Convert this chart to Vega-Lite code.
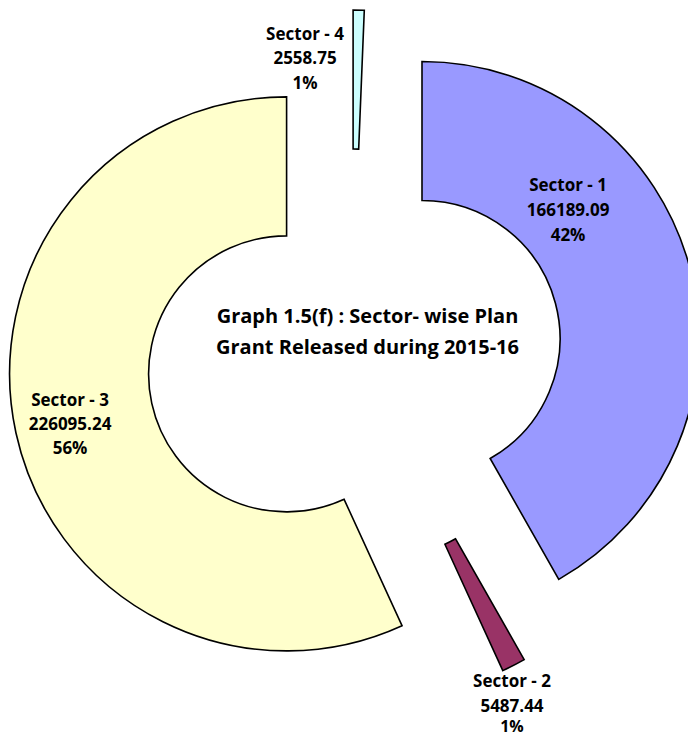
{
  "$schema": "https://vega.github.io/schema/vega-lite/v6.json",
  "width": 688,
  "height": 737,
  "autosize": {"type": "none"},
  "padding": 0,
  "background": "#ffffff",
  "config": {"view": {"stroke": null}},
  "data": {"values": [
    {"sector": "Sector - 1", "value": 166189.09, "share": 0.42},
    {"sector": "Sector - 2", "value": 5487.44, "share": 0.01},
    {"sector": "Sector - 3", "value": 226095.24, "share": 0.56},
    {"sector": "Sector - 4", "value": 2558.75, "share": 0.01}
  ]},
  "transform": [
    {"stack": "value", "groupby": [], "sort": [{"field": "sector", "order": "ascending"}], "as": ["v0", "v1"]}
  ],
  "layer": [
    {
      "transform": [{"filter": "datum.sector === 'Sector - 1'"}],
      "layer": [
        {"mark": {"type": "arc", "outerRadius": 277, "innerRadius": 138, "xOffset": 78, "yOffset": -30, "stroke": "#000000", "strokeWidth": 1.6},
         "encoding": {
           "theta": {"field": "v0", "type": "quantitative"},
           "theta2": {"field": "v1"},
           "color": {"field": "sector", "type": "nominal", "legend": null,
             "scale": {"domain": ["Sector - 1", "Sector - 2", "Sector - 3", "Sector - 4"], "range": ["#9999FF", "#993366", "#FFFFCC", "#CCFFFF"]}}
         }},
        {"mark": {"type": "text", "xOffset": 78, "yOffset": -30, "theta": 0.8535, "radius": 193.8, "dy": -25, "font": "Open Sans", "fontWeight": "bold", "fontSize": 17, "align": "center", "baseline": "middle", "color": "#000000"},
         "encoding": {"text": {"field": "sector", "type": "nominal"}}},
        {"mark": {"type": "text", "xOffset": 78, "yOffset": -30, "theta": 0.8535, "radius": 193.8, "dy": 0, "font": "Open Sans", "fontWeight": "bold", "fontSize": 17, "align": "center", "baseline": "middle", "color": "#000000"},
         "encoding": {"text": {"field": "value", "type": "quantitative", "format": ".2f"}}},
        {"mark": {"type": "text", "xOffset": 78, "yOffset": -30, "theta": 0.8535, "radius": 193.8, "dy": 25, "font": "Open Sans", "fontWeight": "bold", "fontSize": 17, "align": "center", "baseline": "middle", "color": "#000000"},
         "encoding": {"text": {"field": "share", "type": "quantitative", "format": ".0%"}}}
      ]
    },
    {
      "transform": [{"filter": "datum.sector === 'Sector - 2'"}],
      "layer": [
        {"mark": {"type": "arc", "outerRadius": 277, "innerRadius": 138, "xOffset": 43.4, "yOffset": 50.3, "stroke": "#000000", "strokeWidth": 1.6},
         "encoding": {
           "theta": {"field": "v0", "type": "quantitative"},
           "theta2": {"field": "v1"},
           "color": {"field": "sector", "type": "nominal", "legend": null}
         }},
        {"mark": {"type": "text", "xOffset": 43.4, "yOffset": 50.3, "theta": 2.736, "radius": 315.8, "dy": -27, "font": "Open Sans", "fontWeight": "bold", "fontSize": 17, "align": "center", "baseline": "middle", "color": "#000000"},
         "encoding": {"text": {"field": "sector", "type": "nominal"}}},
        {"mark": {"type": "text", "xOffset": 43.4, "yOffset": 50.3, "theta": 2.736, "radius": 315.8, "dy": -2, "font": "Open Sans", "fontWeight": "bold", "fontSize": 17, "align": "center", "baseline": "middle", "color": "#000000"},
         "encoding": {"text": {"field": "value", "type": "quantitative", "format": ".2f"}}},
        {"mark": {"type": "text", "xOffset": 43.4, "yOffset": 50.3, "theta": 2.736, "radius": 315.8, "dy": 18, "font": "Open Sans", "fontWeight": "bold", "fontSize": 16, "align": "center", "baseline": "middle", "color": "#000000"},
         "encoding": {"text": {"field": "share", "type": "quantitative", "format": ".0%"}}}
      ]
    },
    {
      "transform": [{"filter": "datum.sector === 'Sector - 3'"}],
      "layer": [
        {"mark": {"type": "arc", "outerRadius": 277, "innerRadius": 138, "xOffset": -57.4, "yOffset": 5.4, "stroke": "#000000", "strokeWidth": 1.6},
         "encoding": {
           "theta": {"field": "v0", "type": "quantitative"},
           "theta2": {"field": "v1"},
           "color": {"field": "sector", "type": "nominal", "legend": null}
         }},
        {"mark": {"type": "text", "xOffset": -57.4, "yOffset": 5.4, "theta": 4.4809, "radius": 222.5, "dy": -24, "font": "Open Sans", "fontWeight": "bold", "fontSize": 17, "align": "center", "baseline": "middle", "color": "#000000"},
         "encoding": {"text": {"field": "sector", "type": "nominal"}}},
        {"mark": {"type": "text", "xOffset": -57.4, "yOffset": 5.4, "theta": 4.4809, "radius": 222.5, "dy": 0, "font": "Open Sans", "fontWeight": "bold", "fontSize": 17, "align": "center", "baseline": "middle", "color": "#000000"},
         "encoding": {"text": {"field": "value", "type": "quantitative", "format": ".2f"}}},
        {"mark": {"type": "text", "xOffset": -57.4, "yOffset": 5.4, "theta": 4.4809, "radius": 222.5, "dy": 24, "font": "Open Sans", "fontWeight": "bold", "fontSize": 17, "align": "center", "baseline": "middle", "color": "#000000"},
         "encoding": {"text": {"field": "share", "type": "quantitative", "format": ".0%"}}}
      ]
    },
    {
      "transform": [{"filter": "datum.sector === 'Sector - 4'"}],
      "layer": [
        {"mark": {"type": "text", "xOffset": 9.1, "yOffset": -81.5, "theta": 6.0753, "radius": 233, "dy": -24.5, "font": "Open Sans", "fontWeight": "bold", "fontSize": 17, "align": "center", "baseline": "middle", "color": "#000000"},
         "encoding": {"text": {"field": "sector", "type": "nominal"}}},
        {"mark": {"type": "text", "xOffset": 9.1, "yOffset": -81.5, "theta": 6.0753, "radius": 233, "dy": 0, "font": "Open Sans", "fontWeight": "bold", "fontSize": 17, "align": "center", "baseline": "middle", "color": "#000000"},
         "encoding": {"text": {"field": "value", "type": "quantitative", "format": ".2f"}}},
        {"mark": {"type": "text", "xOffset": 9.1, "yOffset": -81.5, "theta": 6.0753, "radius": 233, "dy": 24.5, "font": "Open Sans", "fontWeight": "bold", "fontSize": 17, "align": "center", "baseline": "middle", "color": "#000000"},
         "encoding": {"text": {"field": "share", "type": "quantitative", "format": ".0%"}}},
        {"mark": {"type": "arc", "outerRadius": 277, "innerRadius": 138, "xOffset": 9.1, "yOffset": -81.5, "stroke": "#000000", "strokeWidth": 1.6},
         "encoding": {
           "theta": {"field": "v0", "type": "quantitative"},
           "theta2": {"field": "v1"},
           "color": {"field": "sector", "type": "nominal", "legend": null}
         }}
      ]
    },
    {
      "data": {"values": [{"caption": "Graph 1.5(f)"}]},
      "mark": {"type": "text", "text": ["Graph 1.5(f) : Sector- wise Plan", "Grant Released during 2015-16"], "lineHeight": 31, "xOffset": 23.5, "yOffset": -51.5, "font": "Open Sans", "fontWeight": "bold", "fontSize": 20, "align": "center", "baseline": "middle", "color": "#000000"},
      "encoding": {}
    }
  ]
}
